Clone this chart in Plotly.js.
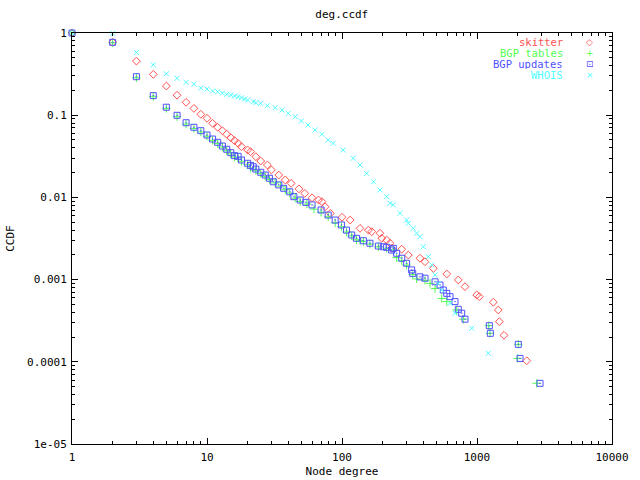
<!DOCTYPE html>
<html>
<head>
<meta charset="utf-8">
<script src="https://cdn.plot.ly/plotly-3.0.1.min.js"></script>
<style>html,body{margin:0;padding:0;background:#fff;}#chart{width:640px;height:480px;}</style>
</head>
<body>
<div id="chart"></div>
<script>
// ---- data ----
const seriesNames = ["skitter", "BGP tables", "BGP updates", "WHOIS"];
const seriesColors = ["#ff5050", "#50ff50", "#5050ff", "#50ffff"];

const skitterDeg = [1,2,3,4,5,6,7,8,9,10,11,12,13,14,15,16,17,18,20,21,23,25,28,30,34,38,42,48,53,60,67,71,75,82,100,115,136,157,166,191,197,214,227,233,277,310,378,412,475,597,727,815,995,1040,1321,1438,1463,1585,2334];
const skitterCcdf = [1,0.77,0.455,0.314,0.226,0.175,0.1435,0.121,0.1025,0.0917,0.0797,0.0713,0.0648,0.0586,0.0532,0.049,0.0455,0.0414,0.0377,0.036,0.0313,0.0277,0.0248,0.0216,0.0187,0.0163,0.0148,0.0127,0.0112,0.0099,0.0093,0.00887,0.0077,0.0064,0.00573,0.0053,0.0042,0.0040,0.00383,0.00366,0.00318,0.00303,0.00277,0.0024,0.00234,0.00199,0.00182,0.00165,0.00137,0.00117,0.00099,0.00082,0.00065,0.00062,0.00053,0.000427,0.000308,0.00021,0.000103];

const tablesDeg = [1,2,3,4,5,6,7,8,9,10,11,12,13,14,15,16,17,18,20,21,23,25,27,29,32,35,38,41,45,49,55,62,70,79,89,99,108,118,128,136,144,161,186,214,240,254,277,301,334,357,412,449,489,548,597,707,792,1222,1248,2000,2023,2767];
const tablesCcdf = [1,0.76,0.285,0.168,0.121,0.096,0.078,0.069,0.0625,0.0555,0.0495,0.0452,0.041,0.037,0.0338,0.031,0.0302,0.0275,0.025,0.0228,0.0213,0.0195,0.018,0.0165,0.015,0.0137,0.0124,0.0113,0.0098,0.0089,0.0083,0.0072,0.0066,0.0058,0.0049,0.0044,0.0038,0.0034,0.00305,0.0030,0.0029,0.0027,0.0025,0.0024,0.0023,0.00185,0.0017,0.0015,0.00115,0.00102,0.00098,0.0009,0.00078,0.00059,0.00054,0.000427,0.00033,0.000275,0.000222,0.00011,0.000163,0.0000547];

const updatesDeg = [1,2,3,4,5,6,7,8,9,10,11,12,13,14,15,16,17,18,20,21,22,23,25,27,29,31,34,37,41,44,49,54,60,70,79,89,99,108,118,128,144,161,186,202,214,233,240,254,277,301,328,334,378,412,489,532,563,597,631,687,727,770,815,1234,1255,2023,2083,2930];
const updatesCcdf = [1,0.77,0.294,0.173,0.125,0.0997,0.081,0.0713,0.0648,0.0574,0.0513,0.0468,0.0422,0.0385,0.035,0.0322,0.0316,0.0285,0.026,0.0245,0.0236,0.0221,0.0202,0.0187,0.0171,0.0155,0.0142,0.0129,0.0117,0.0102,0.0093,0.0087,0.0081,0.00703,0.0061,0.0053,0.00462,0.0040,0.00349,0.00318,0.00297,0.00277,0.00256,0.00251,0.00247,0.00229,0.0024,0.00209,0.00182,0.00158,0.00131,0.00119,0.00108,0.00104,0.00094,0.00086,0.000747,0.00068,0.00062,0.00054,0.000435,0.00039,0.00033,0.000275,0.000222,0.000163,0.00011,0.0000547];

const whoisDeg = [1,2,3,4,5,6,7,8,9,10,11,12,13,14,15,16,17,18,19,20,22,23,25,28,32,36,40,45,50,56,63,71,79,86,102,121,136,152,171,191,214,227,240,269,301,310,337,357,378,400,436,462,489,517,548,631,687,914,1213];
const whoisCcdf = [1,0.99,0.58,0.41,0.32,0.281,0.251,0.238,0.214,0.208,0.197,0.193,0.186,0.1795,0.176,0.171,0.168,0.163,0.157,0.153,0.146,0.142,0.1396,0.1305,0.1234,0.1156,0.1054,0.0959,0.085,0.076,0.066,0.0586,0.0499,0.0455,0.0377,0.0299,0.0248,0.0196,0.0155,0.0123,0.0102,0.00848,0.0081,0.0064,0.0053,0.00484,0.0042,0.00366,0.00333,0.00251,0.0019,0.00151,0.00114,0.0009,0.000747,0.000515,0.00039,0.000256,0.000127];

const xTickVals = [1, 10, 100, 1000, 10000];
const xTickText = ["1", "10", "100", "1000", "10000"];
const yTickVals = [1, 0.1, 0.01, 0.001, 0.0001, 0.00001];
const yTickText = ["1", "0.1", "0.01", "0.001", "0.0001", "1e-05"];
const legendSymbols = ["\u25C7", "+", "\u22A1", "\u00D7"];

const FONT = "DejaVu Sans Mono, Liberation Mono, monospace";

const xs = [skitterDeg, tablesDeg, updatesDeg, whoisDeg];
const ys = [skitterCcdf, tablesCcdf, updatesCcdf, whoisCcdf];
const symbols = ["diamond-open", "cross-thin-open", "square-open-dot", "x-thin-open"];
const sizes = [6, 6, 6, 5];

const traces = xs.map((x, i) => ({
  type: "scatter",
  mode: "markers",
  name: seriesNames[i],
  x: x,
  y: ys[i],
  marker: {symbol: symbols[i], size: sizes[i], color: seriesColors[i], line: {width: 1, color: seriesColors[i]}},
  showlegend: false,
  cliponaxis: false
}));

const annotations = [];
const legendY = [0.977, 0.9503, 0.9236, 0.8969];
seriesNames.forEach((n, i) => {
  annotations.push({xref: "paper", yref: "paper", x: 0.913, y: legendY[i], xanchor: "right", yanchor: "middle",
    height: 10, valign: "middle",
    text: n, showarrow: false, font: {family: FONT, size: 10.5, color: seriesColors[i]}});
  annotations.push({xref: "paper", yref: "paper", x: 0.959, y: legendY[i], xanchor: "center", yanchor: "middle",
    height: 10, valign: "middle",
    text: legendSymbols[i], showarrow: false, font: {family: "DejaVu Sans", size: 9, color: seriesColors[i]}});
});

const layout = {
  width: 640, height: 480,
  margin: {l: 72, r: 28, t: 33, b: 36, pad: 0},
  paper_bgcolor: "#fff", plot_bgcolor: "#fff",
  font: {family: FONT, size: 11, color: "#000"},
  title: {text: "deg.ccdf", x: 0.534, xanchor: "center", y: 0.971, yanchor: "middle", font: {family: FONT, size: 11, color: "#000"}},
  xaxis: {
    type: "log", range: [0, 4],
    title: {text: "Node degree", standoff: 4, font: {family: FONT, size: 11}},
    tickvals: xTickVals, ticktext: xTickText, ticklabelstandoff: 3,
    ticks: "inside", ticklen: 6, tickwidth: 1, tickcolor: "#000",
    minor: {ticks: "inside", ticklen: 3, tickwidth: 1, tickcolor: "#000", dtick: "D1", showgrid: false},
    showline: true, linecolor: "#000", linewidth: 1, mirror: "ticks",
    showgrid: false, zeroline: false, tickfont: {family: FONT, size: 11}
  },
  yaxis: {
    type: "log", range: [-5, 0],
    title: {text: "CCDF", standoff: 10, font: {family: FONT, size: 11}},
    tickvals: yTickVals, ticktext: yTickText, ticklabelstandoff: 2,
    ticks: "inside", ticklen: 6, tickwidth: 1, tickcolor: "#000",
    minor: {ticks: "inside", ticklen: 3, tickwidth: 1, tickcolor: "#000", dtick: "D1", showgrid: false},
    showline: true, linecolor: "#000", linewidth: 1, mirror: "ticks",
    showgrid: false, zeroline: false, tickfont: {family: FONT, size: 11}
  },
  annotations: annotations,
  showlegend: false
};

Plotly.newPlot("chart", traces, layout, {staticPlot: true, displayModeBar: false});
</script>
</body>
</html>
